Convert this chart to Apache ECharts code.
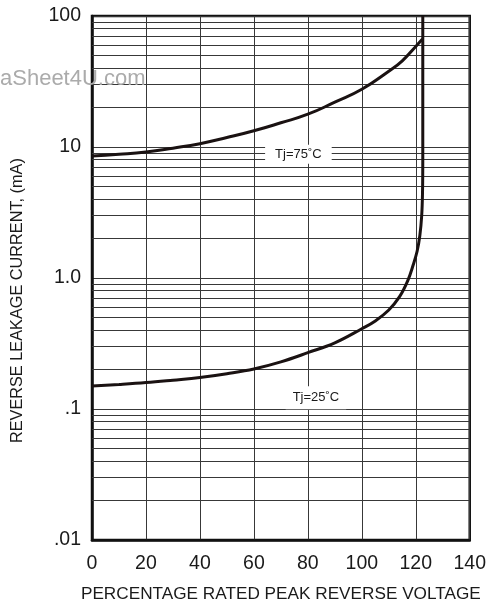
<!DOCTYPE html>
<html>
<head>
<meta charset="utf-8">
<script src="https://cdn.jsdelivr.net/npm/echarts@6/dist/echarts.min.js"></script>
<style>
html,body{margin:0;padding:0;background:#fff;overflow:hidden;}
#c{width:100vw;height:100vh;}
</style>
</head>
<body>
<div id="c"></div>
<script>
// ---- data ----
var xTicks = [0, 20, 40, 60, 80, 100, 120, 140];
var yTickValues = [0.01, 0.1, 1, 10, 100];
var yTickLabels = ['.01', '.1', '1.0', '10', '100'];
var minorGridMultipliers = [2, 3, 4, 5, 6, 7, 8, 9];
var decades = [0.01, 0.1, 1, 10];

var tj75X = [0, 10, 20, 30, 40, 50, 60, 70, 80, 90, 100, 110, 115, 120, 122.5];
var tj75Y = [8.55, 8.8, 9.16, 9.8, 10.6, 11.8, 13.3, 15.3, 17.8, 22, 27.6, 37.9, 45.5, 58.6, 66.7];

var tj25X = [0, 10, 20, 30, 40, 50, 60, 70, 80, 90, 100, 105, 110, 114, 117, 119, 120.5, 121.5, 122.2, 122.5, 122.6, 122.6];
var tj25Y = [0.150, 0.154, 0.159, 0.166, 0.174, 0.186, 0.202, 0.229, 0.269, 0.320, 0.41, 0.47, 0.57, 0.72, 0.95, 1.25, 1.6, 2.1, 3.0, 4.5, 8, 100];

var label75 = {text: 'Tj=75˚C', x: 76.5, y: 8.8};
var label25 = {text: 'Tj=25˚C', x: 83, y: 0.122};

var watermark = 'aSheet4U.com';
var xTitle = 'PERCENTAGE RATED PEAK REVERSE VOLTAGE';
var yTitle = 'REVERSE LEAKAGE CURRENT, (mA)';

// ---- build ----
function zip(xs, ys) { return xs.map(function (x, i) { return [x, ys[i]]; }); }
var minorLines = [];
decades.forEach(function (d) {
  minorGridMultipliers.forEach(function (m) { minorLines.push({yAxis: +(d * m).toPrecision(3)}); });
});
function yLabel(v) {
  for (var i = 0; i < yTickValues.length; i++) {
    if (Math.abs(Math.log10(v) - Math.log10(yTickValues[i])) < 1e-6) return yTickLabels[i];
  }
  return '';
}
var FONT = '"Liberation Sans", Arial, sans-serif';
var gridColor = '#383838';
var H = window.innerHeight || 608;

var chart = echarts.init(document.getElementById('c'), null, {renderer: 'canvas'});
chart.setOption({
  animation: false,
  backgroundColor: '#fff',
  grid: {left: 92, right: 18, top: 16, bottom: 63, show: true, borderColor: '#111', borderWidth: 2.5, backgroundColor: 'transparent'},
  xAxis: {
    type: 'value', min: 0, max: 140, interval: 20,
    axisLine: {show: true, lineStyle: {color: '#111', width: 2.5}},
    axisTick: {show: false},
    axisLabel: {fontFamily: FONT, fontSize: 19.5, color: '#1a1a1a', margin: 14,
      customValues: xTicks},
    splitLine: {show: true, lineStyle: {color: gridColor, width: 1}},
    name: xTitle, nameLocation: 'middle', nameGap: 46,
    nameTextStyle: {fontFamily: FONT, fontSize: 17.2, color: '#1a1a1a'}
  },
  yAxis: {
    type: 'log', logBase: 10, min: 0.01, max: 100,
    axisLine: {show: true, lineStyle: {color: '#111', width: 2.5}},
    axisTick: {show: false},
    axisLabel: {fontFamily: FONT, fontSize: 19.5, color: '#1a1a1a', margin: 11, formatter: yLabel},
    splitLine: {show: true, lineStyle: {color: gridColor, width: 1}}
  },
  graphic: [{
    type: 'text', left: 0, top: 68, z: 100,
    style: {text: watermark, fontFamily: FONT, fontSize: 22, fill: '#ababab'}
  }, {
    type: 'text', x: 18, y: 16 + (H - 79) * 0.538, rotation: Math.PI / 2, z: 100,
    style: {text: yTitle, fontFamily: FONT, fontSize: 16.3, fill: '#1a1a1a', align: 'center', verticalAlign: 'middle'}
  }],
  series: [
    {
      type: 'line', data: [], z: 1, silent: true,
      markLine: {
        silent: true, symbol: 'none', label: {show: false},
        lineStyle: {color: gridColor, width: 1, type: 'solid'},
        emphasis: {disabled: true},
        data: minorLines
      }
    },
    {
      type: 'line', data: [], z: 3, silent: true,
      markPoint: {
        symbol: 'rect', symbolSize: 0, silent: true,
        label: {show: true, position: 'inside', fontFamily: FONT, fontSize: 13, color: '#1a1a1a',
          backgroundColor: '#fff', padding: [3, 10]},
        data: [
          {coord: [label75.x, label75.y], value: label75.text, label: {formatter: label75.text}},
          {coord: [label25.x, label25.y], value: label25.text, label: {formatter: label25.text, padding: [5, 7]}}
        ]
      }
    },
    {
      name: 'Tj=75', type: 'line', z: 5, data: zip(tj75X, tj75Y), smooth: 0.5,
      showSymbol: false, symbol: 'none', lineStyle: {color: '#1a1212', width: 3}
    },
    {
      name: 'Tj=25', type: 'line', z: 5, data: zip(tj25X, tj25Y), smooth: 0.4,
      showSymbol: false, symbol: 'none', lineStyle: {color: '#1a1212', width: 3}
    }
  ]
});
window.addEventListener('resize', function () { chart.resize(); });
</script>
</body>
</html>
